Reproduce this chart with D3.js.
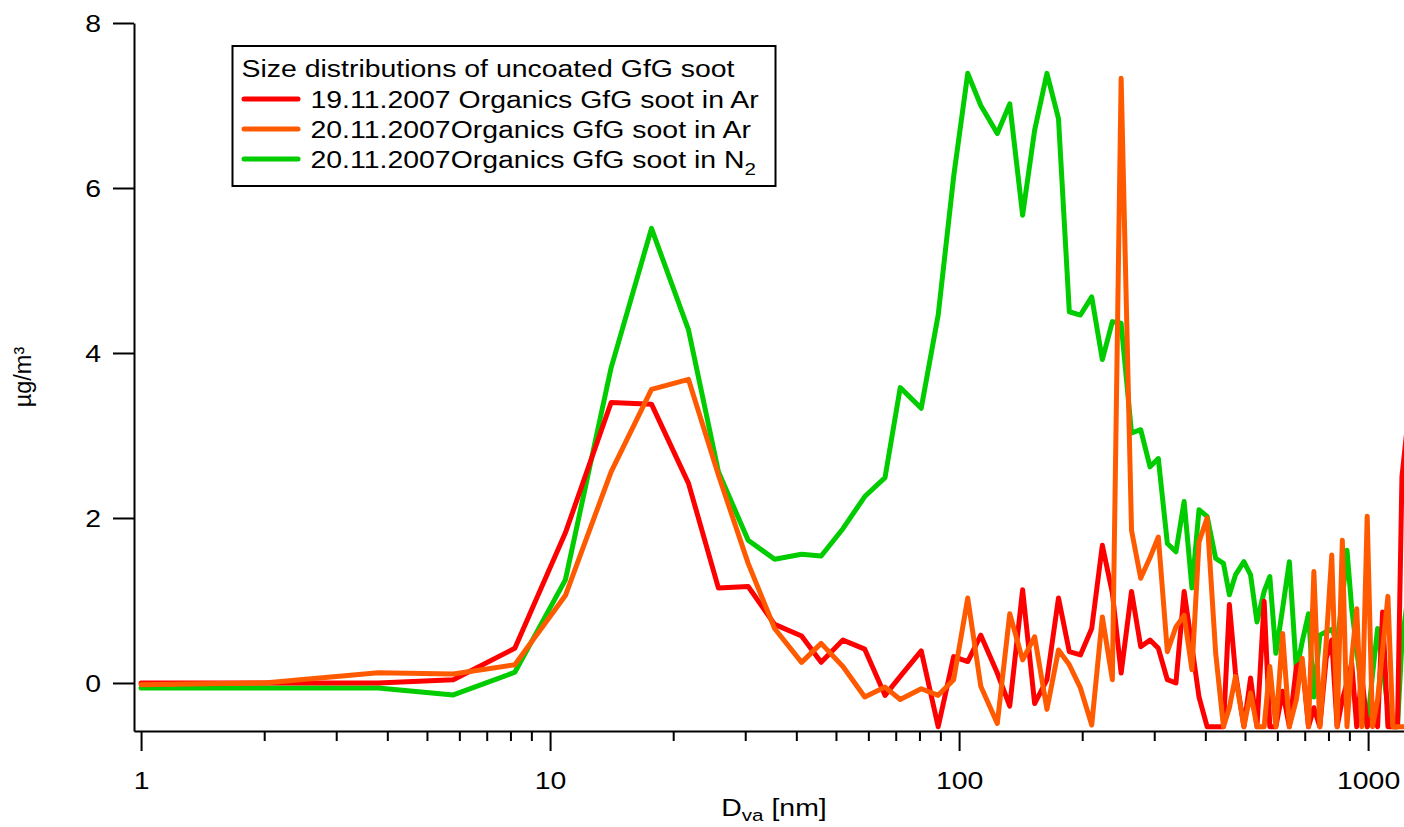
<!DOCTYPE html>
<html>
<head>
<meta charset="utf-8">
<script src="https://cdn.jsdelivr.net/npm/d3@7"></script>
<style>
  body { margin: 0; background: #fff; }
  svg { display: block; }
  text { font-family: "Liberation Sans", Arial, sans-serif; fill: #000; }
</style>
</head>
<body>
<svg id="chart"></svg>
<script>
var width = 1404;
var height = 827;
var fontSize = 23.5;
var stretchX = 1.21;

var sizes = [1, 2, 3.8, 5.8, 8.2, 10.9, 14.1, 17.7, 21.8, 25.8,
  30.5, 35.4, 41.2, 46, 52, 58.8, 65.9, 71.8, 80.8, 88.9,
  97, 105, 113, 124, 133, 143, 153, 164, 175, 186,
  198, 211, 224, 237, 249, 264, 278, 293, 307, 323,
  339, 355, 371, 386, 404, 424, 443, 458, 474, 497,
  516, 535, 557, 575, 595, 618, 642, 668, 690, 715,
  737, 762, 790, 815, 840, 865, 888, 912, 938, 965,
  995, 1025, 1055, 1085, 1118, 1150, 1180, 1210, 1240];

var redValues = [0.0, 0.0, 0.0, 0.04, 0.42, 1.82, 3.40, 3.38, 2.42, 1.15,
  1.17, 0.71, 0.57, 0.25, 0.52, 0.41, -0.15, 0.08, 0.39, -0.53,
  0.32, 0.26, 0.58, 0.12, -0.28, 1.13, -0.25, 0.04, 1.03, 0.38,
  0.34, 0.66, 1.67, 1.09, 0.12, 1.11, 0.44, 0.52, 0.42, 0.04,
  0.0, 1.11, 0.44, -0.17, -0.53, -0.53, -0.53, 0.95, 0.12, -0.53,
  0.06, -0.53, 0.99, -0.53, -0.53, -0.1, -0.53, 0.2, 0.25, -0.53,
  -0.3, -0.53, 0.3, 0.52, -0.53, -0.2, 0.0, 0.24, -0.53, 0.1,
  -0.53, -0.4, -0.53, 0.86, -0.53, -0.53, -0.53, 2.5, 3.0];

var orangeValues = [-0.02, 0.0, 0.125, 0.11, 0.22, 1.06, 2.56, 3.56, 3.68, 2.52,
  1.45, 0.66, 0.25, 0.48, 0.2, -0.17, -0.05, -0.2, -0.07, -0.15,
  0.04, 1.03, -0.04, -0.49, 0.84, 0.28, 0.56, -0.32, 0.4, 0.22,
  -0.06, -0.51, 0.8, 0.04, 7.33, 1.85, 1.27, 1.52, 1.77, 0.38,
  0.68, 0.82, 0.16, 1.71, 2.0, 0.36, -0.53, -0.3, 0.08, -0.53,
  -0.12, -0.53, -0.53, 0.2, -0.53, 0.6, -0.53, -0.2, 0.3, -0.53,
  1.35, -0.53, 0.5, 1.55, -0.53, 1.73, -0.53, 0.3, 0.9, -0.53,
  2.02, -0.53, -0.2, 0.4, 1.05, -0.53, -0.53, -0.53, -0.53];

var greenValues = [-0.06, -0.06, -0.06, -0.145, 0.13, 1.25, 3.82, 5.51, 4.28, 2.56,
  1.73, 1.50, 1.56, 1.54, 1.87, 2.26, 2.49, 3.58, 3.33, 4.46,
  6.14, 7.39, 7.0, 6.66, 7.02, 5.67, 6.7, 7.39, 6.84, 4.5,
  4.46, 4.68, 3.92, 4.38, 4.36, 3.03, 3.07, 2.62, 2.72, 1.69,
  1.59, 2.2, 1.15, 2.1, 2.02, 1.51, 1.45, 1.07, 1.31, 1.47,
  1.31, 0.74, 1.11, 1.29, 0.36, 0.9, 1.47, 0.14, 0.5, 0.84,
  -0.17, 0.58, 0.62, 0.65, 0.5, 1.0, 1.61, 0.9, 0.4, -0.1,
  -0.53, 0.1, 0.66, 0.2, -0.3, -0.53, -0.53, 0.5, 0.9];

var legendTitle = 'Size distributions of uncoated GfG soot';
var seriesNames = ['19.11.2007 Organics GfG soot in Ar', '20.11.2007Organics GfG soot in Ar', '20.11.2007Organics GfG soot in N'];
var seriesSubs = ['', '', '2'];
var seriesColors = ['#ff0000', '#ff5a00', '#00cc00'];
var seriesValues = [redValues, orangeValues, greenValues];
var drawOrder = [2, 0, 1];

var xMajorTicks = [1, 10, 100, 1000];
var xMinorTicks = [2, 3, 4, 5, 6, 7, 8, 9, 20, 30, 40, 50, 60, 70, 80, 90, 200, 300, 400, 500, 600, 700, 800, 900];
var yTicks = [0, 2, 4, 6, 8];

var plotLeft = 134, plotRight = 1404, plotTop = 23, plotBottom = 731;

var svg = d3.select('#chart')
  .attr('width', width)
  .attr('height', height);

var xScale = d3.scaleLog()
  .domain([0.961, 1224])
  .range([plotLeft, plotRight]);

var yScale = d3.scaleLinear()
  .domain([-0.582, 8])
  .range([plotBottom, plotTop]);

svg.append('defs').append('clipPath')
  .attr('id', 'plot-clip')
  .append('rect')
  .attr('x', plotLeft)
  .attr('y', plotTop - 10)
  .attr('width', plotRight - plotLeft)
  .attr('height', plotBottom - plotTop + 10);

var line = d3.line()
  .x(d => xScale(d[0]))
  .y(d => yScale(d[1]));

var lines = svg.append('g').attr('clip-path', 'url(#plot-clip)');

drawOrder.forEach(function(i) {
  lines.append('path')
    .datum(sizes.map((s, k) => [s, seriesValues[i][k]]))
    .attr('d', line)
    .attr('fill', 'none')
    .attr('stroke', seriesColors[i])
    .attr('stroke-width', 5)
    .attr('stroke-linejoin', 'round')
    .attr('stroke-linecap', 'round');
});

// minor ticks first, then majors with labels
svg.append('g')
  .attr('transform', 'translate(0,' + plotBottom + ')')
  .call(d3.axisBottom(xScale).tickValues(xMinorTicks).tickSize(10).tickSizeOuter(0).tickFormat(''))
  .call(g => g.select('.domain').remove());

var xAxis = svg.append('g')
  .attr('transform', 'translate(0,' + plotBottom + ')')
  .call(d3.axisBottom(xScale).tickValues(xMajorTicks).tickSize(20).tickSizeOuter(0).tickFormat(d3.format('d')));

xAxis.selectAll('text')
  .attr('y', null)
  .attr('dy', null)
  .attr('transform', 'translate(0,58) scale(' + stretchX + ',1)')
  .style('font-size', fontSize + 'px');

var yAxis = svg.append('g')
  .attr('transform', 'translate(' + plotLeft + ',0)')
  .call(d3.axisLeft(yScale).tickValues(yTicks).tickSize(21).tickSizeOuter(0));

yAxis.selectAll('text')
  .attr('x', null)
  .attr('dy', '0.35em')
  .attr('transform', 'translate(-33,0) scale(' + stretchX + ',1)')
  .style('font-size', fontSize + 'px');

svg.selectAll('.domain, .tick line')
  .attr('stroke', '#000')
  .attr('stroke-width', 2);

svg.selectAll('.tick text').attr('font-family', null);

var xLabel = svg.append('text')
  .attr('transform', 'translate(774,816) scale(' + stretchX + ',1)')
  .style('font-size', fontSize + 'px')
  .style('text-anchor', 'middle');
xLabel.append('tspan').text('D');
xLabel.append('tspan').attr('dy', 5).style('font-size', '17px').text('va');
xLabel.append('tspan').attr('dy', -5).text(' [nm]');

svg.append('text')
  .attr('transform', 'translate(31,377) rotate(-90)')
  .style('font-size', fontSize + 'px')
  .style('text-anchor', 'middle')
  .text('µg/m³');

var legend = svg.append('g');

legend.append('rect')
  .attr('x', 232.5)
  .attr('y', 46)
  .attr('width', 543)
  .attr('height', 140)
  .attr('fill', '#fff')
  .attr('stroke', '#000')
  .attr('stroke-width', 2);

legend.append('text')
  .attr('transform', 'translate(241.5,77) scale(' + stretchX + ',1)')
  .style('font-size', fontSize + 'px')
  .text(legendTitle);

seriesNames.forEach(function(name, i) {
  var cy = 99 + i * 30;
  legend.append('line')
    .attr('x1', 244)
    .attr('x2', 298)
    .attr('y1', cy)
    .attr('y2', cy)
    .attr('stroke', seriesColors[i])
    .attr('stroke-width', 5)
    .attr('stroke-linecap', 'round');
  var t = legend.append('text')
    .attr('transform', 'translate(310.5,' + (cy + 8.5) + ') scale(' + stretchX + ',1)')
    .style('font-size', fontSize + 'px');
  t.append('tspan').text(name);
  if (seriesSubs[i]) {
    t.append('tspan').attr('dy', 7).style('font-size', '17px').text(seriesSubs[i]);
  }
});
</script>
</body>
</html>
